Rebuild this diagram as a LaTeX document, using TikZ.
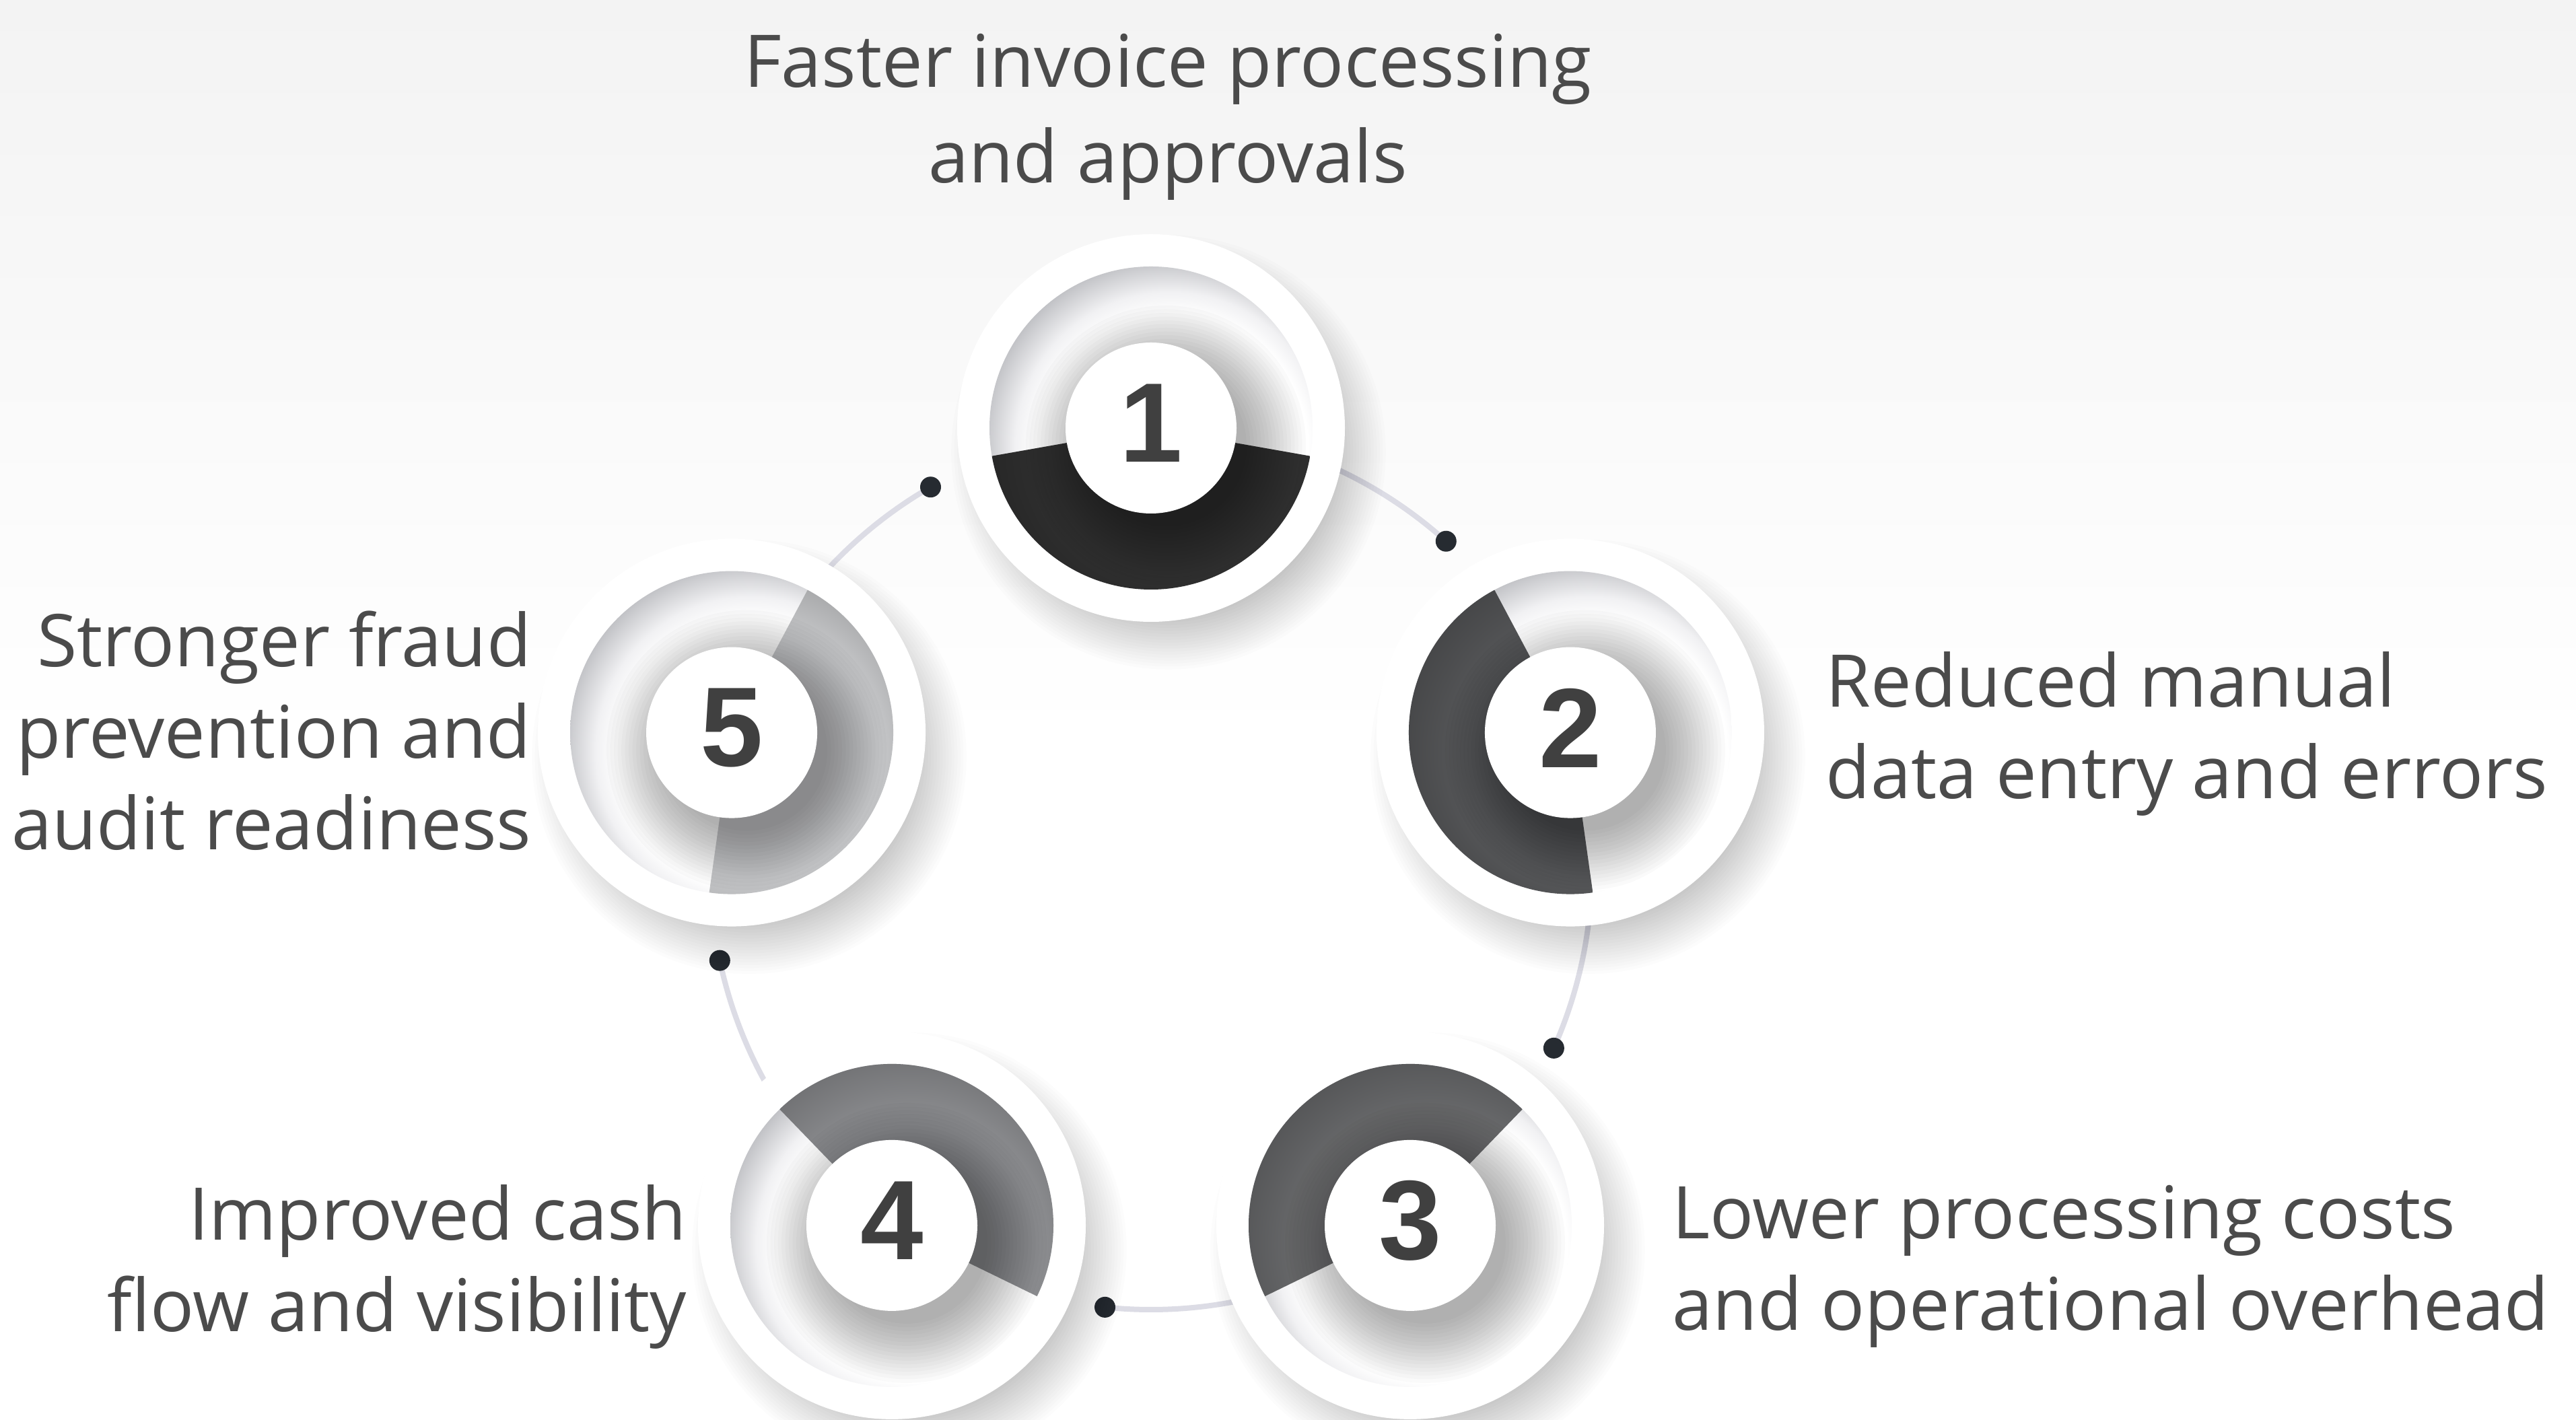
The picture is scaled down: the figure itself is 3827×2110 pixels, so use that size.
\documentclass[tikz,border=0pt]{standalone}
\usepackage{fontspec}
\setmainfont{Open Sans}
\newfontfamily\numfont{Liberation Sans}
\usetikzlibrary{calc}
\definecolor{txt}{HTML}{4B4B4B}
\definecolor{numc}{HTML}{404040}
\definecolor{bgtop}{HTML}{F3F3F3}
\definecolor{connc}{HTML}{DCDCE5}
\definecolor{dotc}{HTML}{262B31}
\definecolor{sa}{HTML}{303030}
\definecolor{sb}{HTML}{58595B}
\definecolor{sc}{HTML}{6C6D6F}
\definecolor{sd}{HTML}{8F9093}
\definecolor{se}{HTML}{C9CACC}
\definecolor{insetmid}{HTML}{F1F1F3}
\definecolor{insetrim}{HTML}{BCBDC1}
\colorlet{sectc}{sa}
\pgfdeclareradialshading{insetsh}{\pgfpoint{5.7bp}{-5.7bp}}{color(0bp)=(white); color(21bp)=(white); color(24bp)=(insetmid); color(29bp)=(insetrim); color(50bp)=(insetrim)}
\pgfdeclareradialshading[sectc]{sectsh}{\pgfpoint{5.7bp}{-5.7bp}}{color(0bp)=(sectc); color(19bp)=(sectc); color(28.5bp)=(sectc!80!black); color(50bp)=(sectc!80!black)}
\begin{document}
\begin{tikzpicture}[x=0.25pt,y=0.25pt,
  lbl/.style={text=txt, font=\fontsize{27}{34}\selectfont, inner sep=0pt},
  numlbl/.style={text=numc, font=\numfont\bfseries\fontsize{42}{42}\selectfont, inner sep=0pt},
  connline/.style={draw=connc, line width=2pt},
  dotnode/.style={circle, fill=dotc, minimum size=7.75pt, inner sep=0pt}]
\useasboundingbox (0,0) rectangle (3827,2110);
\fill[white] (0,0) rectangle (3827,2110);
\shade[top color=bgtop, bottom color=white] (0,1010) rectangle (3827,2110);
\coordinate (P) at (1710,819);
\foreach \i/\a in {1/90,2/18,3/-54,4/-126,5/162}{
  \coordinate (c\i) at ($(P)+(\a:655)$);
}
% connectors
\foreach \i/\a in {1/90,2/18,3/-54,4/-126,5/162}{
  \draw[connline] (c\i) arc[start angle=\a, end angle=\a-42, radius=655];
  \node[dotnode] (d\i) at ($(P)+(\a-42:655)$) {};
}
% units
\foreach \i/\a/\col in {1/90/sa,2/18/sb,3/-54/sc,4/-126/sd,5/162/se}{
  \foreach \k in {0,...,17}{
    \fill[black, opacity=0.013] ($(c\i)+(26,-36)$) circle[radius=248+4.4*\k];
  }
  \fill[white] (c\i) circle[radius=288];
  \shade[shading=insetsh] (c\i) circle[radius=240];
  \colorlet{sectc}{\col}
  \begin{scope}
    \clip (c\i) -- ++(\a+100:240) arc[start angle=\a+100, end angle=\a+260, radius=240] -- cycle;
    \shade[shading=sectsh] (c\i) circle[radius=240];
  \end{scope}
  \begin{scope}
    \clip (c\i) circle[radius=240];
    \foreach \k in {0,...,16}{
      \fill[black, opacity=0.02] ($(c\i)+(22,-26)$) circle[radius=120+5.5*\k];
    }
  \end{scope}
  \fill[white] (c\i) circle[radius=127];
  \node[numlbl] (n\i) at ($(c\i)+(0,7)$) {\i};
}
% labels (base anchor = baseline of the last line)
\node[lbl, font=\fontsize{27}{35.5}\selectfont, align=center, anchor=base] (t1) at (1735,1838) {Faster invoice processing\\and approvals};
\node[lbl, align=left, anchor=base west] (t2) at (2712,923) {Reduced manual\\data entry and errors};
\node[lbl, align=left, anchor=base west] (t3) at (2484,133) {Lower processing costs\\and operational overhead};
\node[lbl, align=right, anchor=base east] (t4) at (1021,131) {Improved cash\\flow and visibility};
\node[lbl, align=right, anchor=base east] (t5) at (790,847) {Stronger fraud\\prevention and\\audit readiness};
\end{tikzpicture}
\end{document}
